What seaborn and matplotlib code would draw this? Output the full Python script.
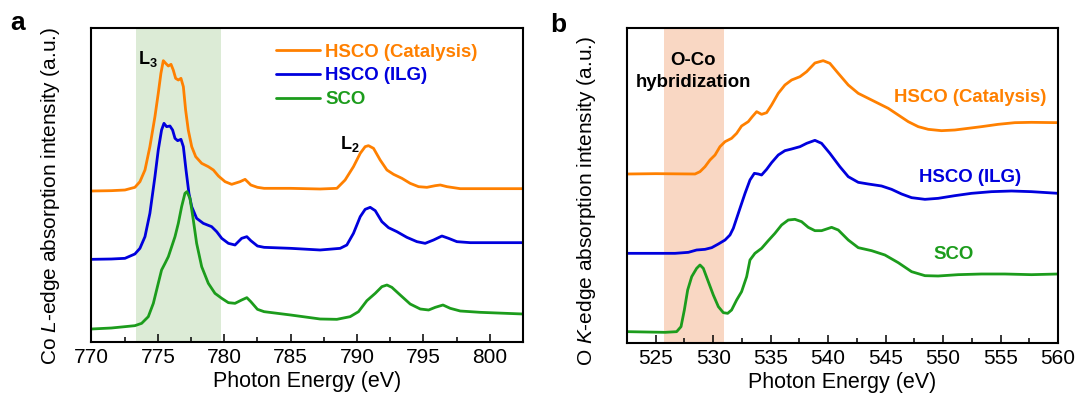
import numpy as np
import pandas as pd
import matplotlib
matplotlib.use("Agg")
import matplotlib.pyplot as plt
from matplotlib.ticker import MultipleLocator
import seaborn as sns

# ---------------- data ----------------
series_names = ["HSCO (Catalysis)", "HSCO (ILG)", "SCO"]
series_colors = ["#ff8000", "#0000dd", "#1c9c1c"]

# Co L-edge XAS (offset spectra, arbitrary units)
co_cat_e = [770, 771.5, 772.52, 773.27, 773.65, 774.03, 774.4, 774.78, 775.03, 775.23,
            775.41, 775.59, 775.79, 775.99, 776.16, 776.34, 776.54, 776.74, 776.92, 777.09,
            777.29, 777.55, 777.85, 778.3, 778.8, 779.18, 779.56, 780.06, 780.56, 781.19,
            781.57, 782.0, 782.5, 783.0, 785.0, 787.22, 788.48, 789.1, 789.73, 790.24,
            790.61, 790.86, 791.24, 791.74, 792.25, 792.75, 793.38, 794.0, 794.63, 795.26,
            795.89, 796.27, 796.77, 797.77, 799.78, 802.5]
co_cat_i = [454, 455, 457, 465, 482, 517, 587, 677, 747, 807,
            845, 837, 829, 834, 817, 792, 787, 792, 767, 697,
            637, 587, 557, 537, 527, 517, 499, 482, 474, 482,
            489, 472, 465, 462, 462, 460, 462, 487, 527, 567,
            587, 590, 582, 547, 517, 504, 492, 477, 467, 465,
            470, 472, 467, 461, 461, 461]

co_ilg_e = [770, 771.5, 772.52, 773.27, 773.65, 774.03, 774.4, 774.78, 775.03, 775.28,
            775.46, 775.66, 775.91, 776.11, 776.29, 776.49, 776.74, 776.92, 777.12, 777.34,
            777.55, 777.92, 778.42, 779.05, 779.43, 779.81, 780.31, 780.81, 781.31, 781.7,
            782.0, 782.5, 783.0, 785.0, 787.22, 788.73, 789.23, 789.73, 790.24, 790.61,
            790.99, 791.37, 791.87, 792.37, 793.0, 793.75, 794.51, 795.13, 795.76, 796.39,
            796.89, 797.52, 798.53, 802.5]
co_ilg_i = [249, 250, 252, 265, 282, 317, 387, 497, 577, 637,
            657, 647, 649, 637, 612, 605, 609, 587, 517, 447,
            407, 372, 357, 347, 332, 312, 297, 292, 312, 317,
            305, 289, 285, 282, 277, 282, 292, 327, 377, 399,
            405, 395, 362, 344, 332, 315, 302, 297, 307, 319,
            312, 302, 299, 299]

co_sco_e = [770, 771.5, 772.52, 773.27, 773.78, 774.28, 774.66, 775.03, 775.28, 775.54,
            775.79, 776.04, 776.29, 776.54, 776.79, 777.04, 777.19, 777.42, 777.67, 777.92,
            778.3, 778.8, 779.3, 779.81, 780.31, 780.81, 781.31, 781.7, 782.0, 782.5,
            783.0, 785.0, 787.22, 788.48, 789.48, 790.11, 790.74, 791.37, 791.87, 792.25,
            792.62, 793.25, 794.0, 794.76, 795.39, 795.89, 796.47, 797.02, 797.77, 799.28,
            802.5]
co_sco_i = [40, 43, 47, 50, 57, 77, 117, 177, 217, 237,
            257, 287, 317, 357, 407, 447, 452, 432, 367, 297,
            227, 177, 147, 132, 119, 117, 127, 134, 122, 99,
            92, 82, 70, 69, 77, 92, 125, 147, 167, 172,
            165, 142, 115, 100, 97, 105, 112, 102, 94, 90,
            85]

# O K-edge XAS (offset spectra, arbitrary units)
o_cat_e = [522.5, 525.0, 528.42, 528.85, 529.29, 529.72, 530.16, 530.59, 531.03, 531.6,
           532.04, 532.47, 533.05, 533.4, 533.78, 534.21, 534.65, 535.08, 535.66, 536.24,
           536.82, 537.55, 538.13, 538.85, 539.57, 540.15, 540.88, 541.75, 542.62, 543.49,
           544.36, 545.23, 546.1, 546.97, 547.84, 548.71, 549.86, 551.02, 552.18, 553.34,
           554.79, 556.24, 557.69, 560.0]
o_cat_i = [508, 509, 508, 515, 530, 550, 565, 590, 605, 615,
           630, 652, 665, 680, 695, 687, 692, 715, 750, 775,
           790, 800, 815, 841, 848, 840, 810, 775, 750, 735,
           720, 705, 685, 665, 650, 642, 638, 640, 645, 650,
           657, 662, 663, 662]

o_ilg_e = [522.5, 526.68, 527.84, 528.56, 529.29, 529.87, 530.45, 531.03, 531.46, 531.75,
           532.04, 532.33, 532.77, 533.2, 533.58, 533.92, 534.21, 534.65, 535.08, 535.66,
           536.24, 536.82, 537.55, 538.13, 538.85, 539.43, 540.15, 541.02, 541.75, 542.62,
           543.49, 544.65, 545.52, 546.39, 547.26, 548.42, 549.57, 551.02, 552.47, 554.21,
           555.95, 557.69, 560.0]
o_ilg_i = [270, 270, 273, 280, 282, 287, 298, 310, 325, 345,
           375, 405, 450, 490, 510, 508, 505, 522, 542, 565,
           578, 583, 590, 600, 609, 600, 570, 530, 500, 483,
           478, 472, 462, 448, 437, 432, 435, 443, 450, 455,
           457, 455, 450]

o_sco_e = [522.5, 525.81, 526.82, 527.2, 527.49, 527.78, 528.13, 528.56, 528.85, 529.14,
           529.52, 530.01, 530.45, 530.88, 531.26, 531.6, 532.04, 532.47, 532.91, 533.2,
           533.63, 534.21, 534.79, 535.37, 535.95, 536.53, 537.11, 537.69, 538.27, 538.85,
           539.43, 540.3, 540.88, 541.75, 542.62, 543.78, 544.94, 546.1, 547.26, 548.42,
           549.57, 551.31, 553.34, 555.37, 557.69, 560.0]
o_sco_i = [35, 33, 35, 50, 100, 160, 200, 225, 235, 225,
           190, 145, 110, 92, 90, 100, 130, 155, 200, 250,
           270, 285, 308, 330, 355, 370, 372, 365, 348, 338,
           338, 348, 340, 310, 287, 278, 265, 242, 215, 203,
           202, 206, 208, 208, 206, 208]

# highlighted energy windows
co_l3_window = (773.35, 779.75)
o_hyb_window = (525.7, 530.9)

# ---------------- style ----------------
sns.set_theme(style="white")
plt.rcParams["font.family"] = ["Liberation Sans", "DejaVu Sans"]
plt.rcParams["mathtext.fontset"] = "custom"
plt.rcParams["mathtext.rm"] = "Liberation Sans"
plt.rcParams["mathtext.it"] = "Liberation Sans:italic"
plt.rcParams["mathtext.bf"] = "Liberation Sans:bold"
plt.rcParams["axes.edgecolor"] = "black"
plt.rcParams["text.color"] = "black"
plt.rcParams["axes.labelcolor"] = "black"
plt.rcParams["xtick.color"] = "black"
plt.rcParams["xtick.labelcolor"] = "black"

LABEL_SIZE = 15
TICK_SIZE = 15
NOTE_SIZE = 13.4


def long_frame(energies, intensities):
    frames = []
    for name, e, i in zip(series_names, energies, intensities):
        frames.append(pd.DataFrame({"energy": e, "intensity": i, "sample": name}))
    return pd.concat(frames, ignore_index=True)


co_df = long_frame([co_cat_e, co_ilg_e, co_sco_e], [co_cat_i, co_ilg_i, co_sco_i])
o_df = long_frame([o_cat_e, o_ilg_e, o_sco_e], [o_cat_i, o_ilg_i, o_sco_i])
palette = dict(zip(series_names, series_colors))

fig = plt.figure(figsize=(10.76, 4.0), dpi=100)
ax_a = fig.add_axes([0.0850, 0.145, 0.4011, 0.785])
ax_b = fig.add_axes([0.5827, 0.1425, 0.4006, 0.7875])


def style_axis(ax, xlim, ylim, major, minor):
    ax.set_xlim(*xlim)
    ax.set_ylim(*ylim)
    ax.set_yticks([])
    ax.xaxis.set_major_locator(MultipleLocator(major))
    ax.xaxis.set_minor_locator(MultipleLocator(minor))
    ax.tick_params(axis="x", which="major", direction="in", length=5.5, width=1.1,
                   labelsize=TICK_SIZE, pad=4.5, bottom=True)
    ax.tick_params(axis="x", which="minor", direction="in", length=3.5, width=1.1,
                   bottom=True)
    for sp in ax.spines.values():
        sp.set_linewidth(1.5)
        sp.set_color("black")
    ax.set_xlabel("Photon Energy (eV)", fontsize=LABEL_SIZE + 0.5, labelpad=2.5)


# ---- panel a: Co L-edge ----
ax_a.axvspan(*co_l3_window, color="#dcebd6", lw=0, zorder=0)
sns.lineplot(data=co_df, x="energy", y="intensity", hue="sample", hue_order=series_names,
             palette=palette, sort=False, estimator=None, linewidth=2.0, ax=ax_a)
style_axis(ax_a, (770, 802.5), (1, 943), 5, 2.5)
ax_a.set_ylabel(r"Co $\mathit{L}$-edge absorption intensity (a.u.)", fontsize=LABEL_SIZE)
ax_a.yaxis.set_label_coords(-0.068, 0.466)

handles, labels = ax_a.get_legend_handles_labels()
leg = ax_a.legend(handles, labels, loc="upper left", bbox_to_anchor=(0.428, 0.95),
                  frameon=False, borderpad=0, borderaxespad=0, handlelength=2.37,
                  handletextpad=0.27, labelspacing=0.36,
                  prop={"weight": "bold", "size": NOTE_SIZE})
for txt, col in zip(leg.get_texts(), series_colors):
    txt.set_color(col)
for ln in leg.get_lines():
    ln.set_linewidth(2.0)

ax_a.text(0.108, 0.885, r"$\mathbf{L_3}$", transform=ax_a.transAxes, fontsize=13,
          ha="left", va="baseline")
ax_a.text(0.576, 0.614, r"$\mathbf{L_2}$", transform=ax_a.transAxes, fontsize=13,
          ha="left", va="baseline")

# ---- panel b: O K-edge ----
ax_b.axvspan(*o_hyb_window, color="#f9d7c3", lw=0, zorder=0)
sns.lineplot(data=o_df, x="energy", y="intensity", hue="sample", hue_order=series_names,
             palette=palette, sort=False, estimator=None, linewidth=2.0, legend=False,
             ax=ax_b)
style_axis(ax_b, (522.5, 560), (1, 946), 5, 2.5)
ax_b.set_ylabel(r"O $\mathit{K}$-edge absorption intensity (a.u.)", fontsize=LABEL_SIZE)
ax_b.yaxis.set_label_coords(-0.067, 0.451)

ax_b.text(0.152, 0.8825, "O-Co", transform=ax_b.transAxes, fontsize=NOTE_SIZE,
          fontweight="bold", ha="center", va="baseline")
ax_b.text(0.155, 0.814, "hybridization", transform=ax_b.transAxes, fontsize=NOTE_SIZE,
          fontweight="bold", ha="center", va="baseline")
label_pos = [(0.796, 0.766), (0.796, 0.511), (0.759, 0.267)]
for name, col, (lx, ly) in zip(series_names, series_colors, label_pos):
    ax_b.text(lx, ly, name, transform=ax_b.transAxes, fontsize=NOTE_SIZE,
              fontweight="bold", color=col, ha="center", va="baseline")

# panel letters
fig.text(0.0093, 0.925, "a", fontsize=19, fontweight="bold", ha="left", va="baseline")
fig.text(0.511, 0.921, "b", fontsize=19, fontweight="bold", ha="left", va="baseline")

fig.savefig("out.png", dpi=100, facecolor="white")
